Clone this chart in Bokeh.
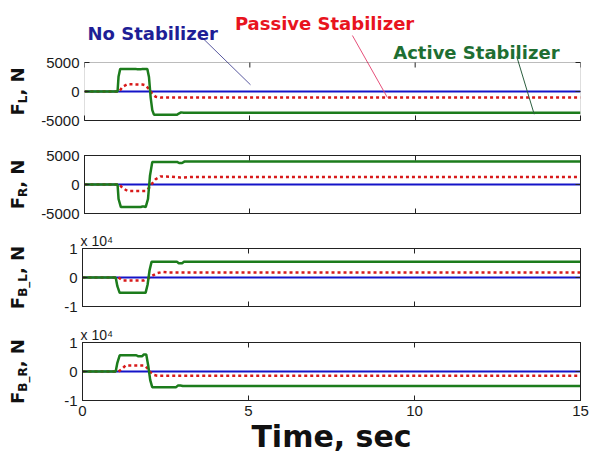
from math import pi
from bokeh.plotting import figure
from bokeh.layouts import column, row
from bokeh.models import (Range1d, FixedTicker, LinearAxis, Label, Title,
                          BoxAnnotation, CustomJSTickFormatter)
from bokeh.embed import file_html
from bokeh.resources import INLINE

# ---------------- data ----------------
x_ticks = [0, 5, 10, 15]

t_none = [0, 15]
v_none = [0, 0]

# F_L
t_FL_act = [0, 1.00, 1.03, 1.08, 1.55, 1.60, 1.70, 1.75, 1.90, 1.95, 2.00, 2.05, 2.10, 2.80, 2.85, 2.92, 3.00, 15]
FL_act = [0, 0, 2600, 3900, 3900, 3820, 3820, 3900, 3900, 2500, -1000, -3200, -4000, -4000, -3800, -3600, -3650, -3650]
t_FL_pas = [0, 1.05, 1.15, 1.30, 1.75, 1.85, 1.95, 2.05, 2.15, 2.30, 15]
FL_pas = [0, 0, 800, 1250, 1200, 1050, 400, -400, -900, -1050, -1050]

# F_R
t_FR_act = [0, 1.00, 1.03, 1.10, 1.70, 1.75, 1.80, 1.85, 1.92, 1.98, 2.05, 2.80, 2.86, 2.95, 3.02, 15]
FR_act = [0, 0, -2500, -3900, -3900, -3800, -3800, -3900, -2500, 1500, 3900, 3900, 3700, 3700, 3950, 3950]
t_FR_pas = [0, 1.05, 1.15, 1.30, 1.85, 1.95, 2.05, 2.15, 2.30, 2.60, 2.90, 3.30, 15]
FR_pas = [0, 0, -600, -1100, -1100, -600, 200, 900, 1400, 1350, 1200, 1300, 1300]

# F_B_L
t_FBL_act = [0, 1.00, 1.05, 1.12, 1.90, 1.96, 2.02, 2.08, 2.85, 2.90, 3.00, 3.05, 15]
FBL_act = [0, 0, -3000, -5300, -5300, -2500, 2500, 5400, 5400, 4900, 4900, 5400, 5400]
t_FBL_pas = [0, 1.08, 1.20, 1.85, 1.95, 2.10, 2.25, 2.40, 2.60, 15]
FBL_pas = [0, 0, -1000, -1000, -500, 600, 1500, 1900, 1700, 1700]

# F_B_R
t_FBR_act = [0, 1.00, 1.05, 1.12, 1.62, 1.67, 1.80, 1.85, 1.92, 1.98, 2.04, 2.10, 2.82, 2.88, 2.95, 3.02, 15]
FBR_act = [0, 0, 3000, 5600, 5600, 5300, 5300, 5900, 5900, 2000, -3000, -5400, -5400, -4800, -4800, -5000, -5000]
t_FBR_pas = [0, 1.08, 1.18, 1.30, 1.85, 1.95, 2.05, 2.15, 2.25, 15]
FBR_pas = [0, 0, 800, 2100, 2100, 1200, -300, -1200, -1450, -1450]

y_ticks_small = [-5000, 0, 5000]
y_labels_small = {-5000: "-5000", 0: "0", 5000: "5000"}
y_ticks_big = [-10000, 0, 10000]
y_labels_big = {-10000: "-1", 0: "0", 10000: "1"}

# y-axis label subscripts of the four panels
y_subs = ["L", "R", "B_L", "B_R"]

# series names and where their leader lines point (t, F_L value)
note_text = ["No Stabilizer", "Passive Stabilizer", "Active Stabilizer"]
note_tip_t = [5.02, 9.16, 13.60]
note_tip_v = [1160, -1040, -3920]

# ---------------- styles / layout ----------------
BLUE = "#1414c8"
RED = "#d81a1a"
GREEN = "#1c7c1c"
AXC = "#222222"
W = {"F": .683, "L": .637, "R": .770, "B": .762, "_": .5, ",": .38, " ": .348, "N": .837}

PAGE_H = 456
LAB_W = 38          # width of the y-label strip
FRAME_L = 82        # page x of the frame's left edge
FRAME_W = 498
FRAME_H = 58
TOP_H = 62          # space above the first panel's box (series notes)
SCALE1 = 10000 / FRAME_H   # N per px in the first panel
PX_PER_S = FRAME_W / 15
BOX_TOPS = [62, 155, 248, 342]   # page y of each panel box's top edge

note_text_color = ["#1e1e96", "#e8141e", "#1e6e32"]
note_line_color = ["#5a5aa0", "#e6507a", "#2c5f40"]
note_text_px = [(85, 33), (233, 23), (392, 52)]     # left, baseline (page px)
note_start_px = [(200, 37), (351, 35), (516, 56)]


def no_align(fig):
    if "frame_align" in fig.properties():
        fig.frame_align = False


def px_to_p1(px, py):
    """page pixel -> data coords of the first panel (whose frame reaches the top)."""
    return (px - FRAME_L) / PX_PER_S, 5000 + (TOP_H - py) * SCALE1


def style_axis(ax, show_labels=True):
    ax.major_tick_in = 5
    ax.major_tick_out = 0
    ax.minor_tick_line_color = None
    ax.axis_line_color = AXC
    ax.major_tick_line_color = AXC
    if show_labels:
        ax.major_label_text_font = "Liberation Sans"
        ax.major_label_text_font_size = "15px"
        ax.major_label_text_color = "#1a1a1a"
        ax.major_label_standoff = 5
    else:
        ax.formatter = CustomJSTickFormatter(code="return ''")
        ax.major_label_text_font_size = "0px"
        ax.major_label_standoff = 0


def make_panel(height, top, bottom, ylim, yticks, overrides, series, xlabels,
               extend_top=0.0):
    y_hi = ylim[1] + extend_top
    p = figure(width=589 - LAB_W, height=height, x_range=Range1d(0, 15),
               y_range=Range1d(ylim[0], y_hi), output_backend="svg",
               toolbar_location=None, min_border_left=FRAME_L - LAB_W,
               min_border_right=9, min_border_top=top, min_border_bottom=bottom)
    no_align(p)
    p.grid.visible = False
    p.background_fill_color = "white"
    p.border_fill_color = "white"
    p.xaxis.ticker = FixedTicker(ticks=x_ticks)
    p.yaxis.ticker = FixedTicker(ticks=yticks)
    for ax in p.xaxis:
        style_axis(ax, xlabels)
    for ax in p.yaxis:
        style_axis(ax, True)
        ax.major_label_overrides = overrides
    ax_r = LinearAxis(ticker=FixedTicker(ticks=yticks))
    style_axis(ax_r, False)
    p.add_layout(ax_r, "right")
    if extend_top:
        # frame reaches above the box: draw the box and its top ticks here
        p.outline_line_color = None
        for ax in p.yaxis:
            ax.axis_line_color = None
        p.add_layout(BoxAnnotation(left=0, right=15, bottom=ylim[0], top=ylim[1],
                                   fill_alpha=0, line_color=AXC, line_width=1))
        p.ray(x=x_ticks, y=[ylim[1]] * len(x_ticks), length=5,
              length_units="screen", angle=-pi / 2, line_color=AXC, line_width=1)
    else:
        p.outline_line_color = AXC
        ax_top = LinearAxis(ticker=FixedTicker(ticks=x_ticks))
        style_axis(ax_top, False)
        p.add_layout(ax_top, "above")

    (tn, vn), (tp, vp), (ta, va) = series
    p.line(tn, vn, color=BLUE, line_width=2)
    p.line(tp, vp, color=RED, line_width=2.5, line_dash="3 3")
    p.line(ta, va, color=GREEN, line_width=2.5)
    return p


specs = [
    (137, 0, 17, (-5000, 5000), y_ticks_small, y_labels_small,
     [(t_none, v_none), (t_FL_pas, FL_pas), (t_FL_act, FL_act)], False),
    (93, 18, 17, (-5000, 5000), y_ticks_small, y_labels_small,
     [(t_none, v_none), (t_FR_pas, FR_pas), (t_FR_act, FR_act)], False),
    (93, 18, 17, (-10000, 10000), y_ticks_big, y_labels_big,
     [(t_none, v_none), (t_FBL_pas, FBL_pas), (t_FBL_act, FBL_act)], False),
    (133, 19, 56, (-10000, 10000), y_ticks_big, y_labels_big,
     [(t_none, v_none), (t_FBR_pas, FBR_pas), (t_FBR_act, FBR_act)], True),
]

panels = []
for i, (h, top, bot, ylim, yt, ov, series, xl) in enumerate(specs):
    ext = TOP_H * SCALE1 if i == 0 else 0.0
    panels.append(make_panel(h, top, bot, ylim, yt, ov, series, xl, extend_top=ext))
p1, p2, p3, p4 = panels

# one tall strip holding the four rotated y labels (1 data unit = 1 px)
strip = figure(width=LAB_W, height=PAGE_H, x_range=Range1d(0, LAB_W),
               y_range=Range1d(0, PAGE_H), output_backend="svg", title=None,
               toolbar_location=None, x_axis_type=None, y_axis_type=None,
               min_border_left=0, min_border_right=0, min_border_top=0,
               min_border_bottom=0)
no_align(strip)
strip.grid.visible = False
strip.outline_line_color = None
strip.background_fill_color = "white"
strip.border_fill_color = "white"
for sub, box_top in zip(y_subs, BOX_TOPS):
    parts = [("F", 18, 16.5), (sub, 12, 22.5), (", N", 18, 16.5)]
    widths = [sum(W[c] for c in txt) * s for txt, s, _ in parts]
    yc = PAGE_H - (box_top + FRAME_H / 2)
    pos = yc - sum(widths) / 2
    for (txt, s, xc), w in zip(parts, widths):
        strip.add_layout(Label(x=xc, y=pos + w / 2, text=txt, angle=pi / 2,
                               text_font="DejaVu Sans", text_font_style="bold",
                               text_font_size=f"{s}px", text_align="center",
                               text_baseline="middle", text_color="#111111"))
        pos += w

# x 10^4 multipliers
for p in (p3, p4):
    p.add_layout(Title(text="x 10\u2074", align="left", offset=-2, standoff=0,
                       text_font="Liberation Sans", text_font_size="14px",
                       text_font_style="normal", text_color="#1a1a1a",
                       vertical_align="bottom"), "above")

# x axis title (bottom axis of the last panel)
xb = p4.below[0]
xb.axis_label = "Time, sec"
xb.axis_label_text_font = "DejaVu Sans"
xb.axis_label_text_font_style = "bold"
xb.axis_label_text_font_size = "30px"
xb.axis_label_text_color = "#111111"
xb.axis_label_standoff = 0

# series notes with leader lines in the first panel
for i, txt in enumerate(note_text):
    tx, ty = px_to_p1(*note_text_px[i])
    p1.add_layout(Label(x=tx, y=ty, text=txt, text_font="DejaVu Sans",
                        text_font_style="bold", text_font_size="18px",
                        text_align="left", text_baseline="alphabetic",
                        text_color=note_text_color[i]))
    sx, sy = px_to_p1(*note_start_px[i])
    p1.segment(x0=[sx], y0=[sy], x1=[note_tip_t[i]], y1=[note_tip_v[i]],
               line_color=note_line_color[i], line_width=1)

layout = row(strip, column(*panels, spacing=0), spacing=0)
open("out.html", "w").write(file_html(layout, INLINE))
